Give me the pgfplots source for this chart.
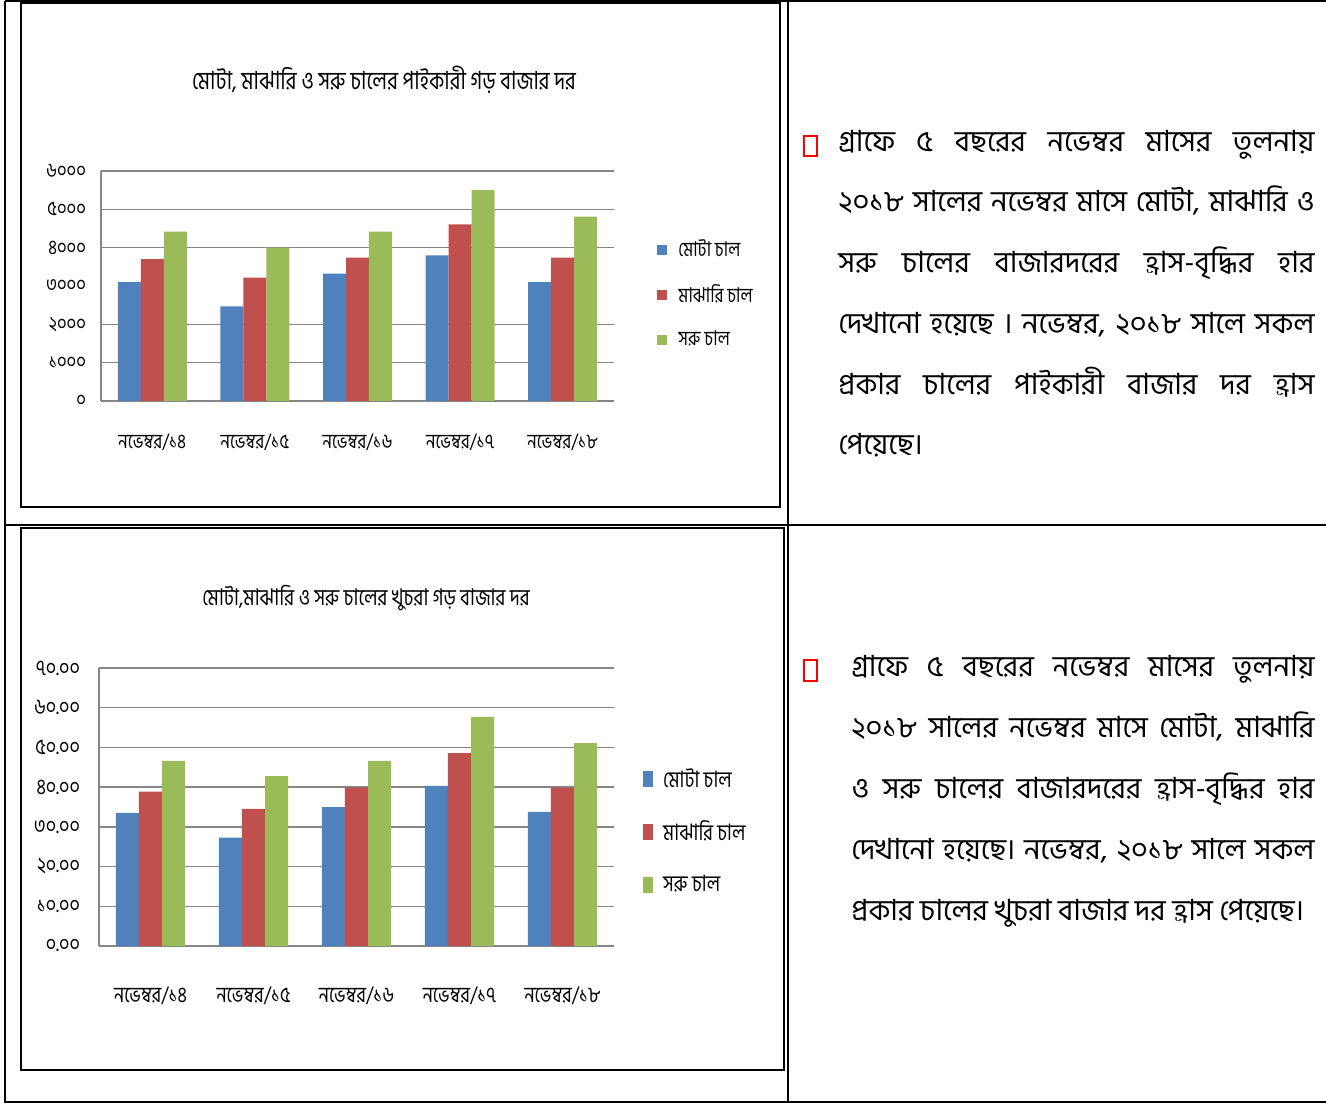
\documentclass[border=0pt]{standalone}
\usepackage{fontspec}
\usepackage{pgfplots}
\pgfplotsset{compat=1.18}
\setmainfont{Hind Siliguri}[Script=Bengali]
\newfontfamily\chartfont[Script=Bengali,FakeStretch=0.82]{Hind Siliguri}
\definecolor{cblue}{HTML}{4F81BD}
\definecolor{cred}{HTML}{C0504D}
\definecolor{cgreen}{HTML}{9BBB59}
\definecolor{gridgray}{HTML}{868686}

\pgfplotsset{ricechart/.style={
  scale only axis,
  axis x line*=bottom, axis y line*=left,
  axis line style={gridgray, line width=0.7pt},
  xmin=-0.5, xmax=4.5, ymin=0,
  xtick={0,...,4},
  xticklabels={নভেম্বর/১৪,নভেম্বর/১৫,নভেম্বর/১৬,নভেম্বর/১৭,নভেম্বর/১৮},
  major tick length=0pt,
  ymajorgrids, grid style={gridgray, line width=0.7pt},
  ybar=0pt, bar width=0.224,
  yticklabel style={anchor=east},
  legend cell align=left,
  legend style={draw=none, fill=none, inner sep=0pt, anchor=north west},
}}

\begin{document}
\begin{tikzpicture}[x=0.5pt, y=-0.5pt]
\useasboundingbox (0,0) rectangle (1326,1106);

% table rules
\draw[line width=0.75pt] (5,1) -- (1326,1);
\draw[line width=0.75pt] (5,1) -- (5,1102) -- (1326,1102);
\draw[line width=0.75pt] (788,1) -- (788,1102);
\draw[line width=0.75pt] (5,525) -- (1326,525);
% chart frames
\draw[line width=1pt] (21,3) rectangle (780,507);
\draw[line width=1pt] (21,528) rectangle (784,1070);

% wholesale chart
\node[font=\chartfont\fontsize{12.5}{14}\selectfont] at (384,80) {মোটা, মাঝারি ও সরু চালের পাইকারী গড় বাজার দর};
\begin{axis}[ricechart,
  at={(50.5pt,-200.5pt)}, anchor=south west,
  width=256.5pt, height=115pt,
  ymax=6000,
  ytick={0,1000,2000,4000,5000,6000},
  yticklabels={০,১০০০,২০০০,৪০০০,৫০০০,৬০০০},
  extra y ticks={3000}, extra y tick labels={৩০০০},
  extra y tick style={grid=none},
  tick label style={font=\chartfont\fontsize{10.2}{11}\selectfont},
  yticklabel style={xshift=-4pt},
  xticklabel style={yshift=-13pt},
  legend style={at={(1.084,0.72)}, row sep=8.5pt, column sep=3.5pt,
    font=\chartfont\fontsize{10.2}{11}\selectfont},
  legend image code/.code={\path[#1,draw=none] (0pt,-2.5pt) rectangle (5pt,2.5pt);},
]
\addplot[fill=cblue, draw=none] coordinates {(0,3100)(1,2470)(2,3320)(3,3800)(4,3100)};
\addlegendentry{মোটা চাল}
\addplot[fill=cred, draw=none] coordinates {(0,3700)(1,3220)(2,3740)(3,4610)(4,3740)};
\addlegendentry{মাঝারি চাল}
\addplot[fill=cgreen, draw=none] coordinates {(0,4420)(1,4000)(2,4420)(3,5500)(4,4810)};
\addlegendentry{সরু চাল}
\end{axis}

% retail chart
\node[font=\chartfont\fontsize{11.5}{13}\selectfont] at (366,598) {মোটা,মাঝারি ও সরু চালের খুচরা গড় বাজার দর};
\begin{axis}[ricechart,
  at={(49.5pt,-473pt)}, anchor=south west,
  width=257.5pt, height=139pt,
  ymax=70,
  ytick={0,10,...,70},
  yticklabels={০.০০,১০.০০,২০.০০,৩০.০০,৪০.০০,৫০.০০,৬০.০০,৭০.০০},
  tick label style={font=\chartfont\fontsize{11}{12}\selectfont},
  xticklabel style={font=\chartfont\fontsize{11}{12}\selectfont, yshift=-17pt},
  yticklabel style={xshift=-6pt},
  legend style={at={(1.056,0.655)}, row sep=11.5pt, column sep=3pt,
    font=\chartfont\fontsize{11.3}{12}\selectfont},
  legend image code/.code={\path[#1,draw=none] (0pt,-4pt) rectangle (5pt,4pt);},
]
\addplot[fill=cblue, draw=none] coordinates {(0,33.5)(1,27.3)(2,35.0)(3,40.3)(4,33.8)};
\addlegendentry{মোটা চাল}
\addplot[fill=cred, draw=none] coordinates {(0,38.9)(1,34.5)(2,39.9)(3,48.6)(4,39.9)};
\addlegendentry{মাঝারি চাল}
\addplot[fill=cgreen, draw=none] coordinates {(0,46.6)(1,42.8)(2,46.6)(3,57.7)(4,51.1)};
\addlegendentry{সরু চাল}
\end{axis}

% notes, top
\draw[red, line width=0.6pt] (804,136) rectangle (817,156);
\begin{scope}[every node/.style={anchor=base west, inner sep=0pt, font=\fontsize{14.6}{16}\selectfont}]
\node at (838,152) {\makebox[238pt][s]{গ্রাফে ৫ বছরের নভেম্বর মাসের তুলনায়}};
\node at (838,212) {\makebox[238pt][s]{২০১৮ সালের নভেম্বর মাসে মোটা, মাঝারি ও}};
\node at (838,273) {\makebox[238pt][s]{সরু চালের বাজারদরের হ্রাস-বৃদ্ধির হার}};
\node at (838,334) {\makebox[238pt][s]{দেখানো হয়েছে । নভেম্বর, ২০১৮ সালে সকল}};
\node at (838,395) {\makebox[238pt][s]{প্রকার চালের পাইকারী বাজার দর হ্রাস}};
\node at (838,455) {পেয়েছে।};
% notes, bottom
\node at (851,676) {\makebox[231.5pt][s]{গ্রাফে ৫ বছরের নভেম্বর মাসের তুলনায়}};
\node at (851,737) {\makebox[231.5pt][s]{২০১৮ সালের নভেম্বর মাসে মোটা, মাঝারি}};
\node at (851,798) {\makebox[231.5pt][s]{ও সরু চালের বাজারদরের হ্রাস-বৃদ্ধির হার}};
\node at (851,859) {\makebox[231.5pt][s]{দেখানো হয়েছে। নভেম্বর, ২০১৮ সালে সকল}};
\node at (851,920) {প্রকার চালের খুচরা বাজার দর হ্রাস পেয়েছে।};
\end{scope}
\draw[red, line width=0.6pt] (804,660) rectangle (817,681);
\end{tikzpicture}
\end{document}
